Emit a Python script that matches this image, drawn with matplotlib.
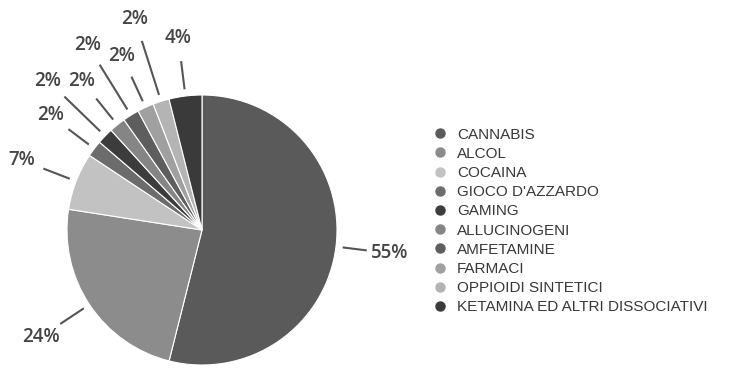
import matplotlib.pyplot as plt
import numpy as np
from matplotlib.lines import Line2D

categories = ['CANNABIS', 'ALCOL', 'COCAINA', "GIOCO D'AZZARDO", 'GAMING',
              'ALLUCINOGENI', 'AMFETAMINE', 'FARMACI', 'OPPIOIDI SINTETICI',
              'KETAMINA ED ALTRI DISSOCIATIVI']
shares = [55, 24, 7, 2, 2, 2, 2, 2, 2, 4]
colors = ['#5a5a5a', '#8c8c8c', '#c2c2c2', '#6c6c6c', '#3c3c3c',
          '#858585', '#5e5e5e', '#a0a0a0', '#b4b4b4', '#3a3a3a']
# label distance (in radii) for each slice, staggered for the small ones
label_r = [1.40, 1.43, 1.43, 1.41, 1.59, 1.42, 1.61, 1.42, 1.64, 1.43]

W, H = 729, 371
fig = plt.figure(figsize=(W / 100, H / 100), dpi=100)
ax = fig.add_axes([0, 0, 1, 1])

cx, cy, R = 202, 141, 135
wedges, _ = ax.pie(shares, colors=colors, startangle=90, counterclock=False,
                   center=(cx, cy), radius=R, frame=True,
                   wedgeprops=dict(edgecolor='white', linewidth=0.8))
ax.set_xlim(0, W)
ax.set_ylim(0, H)
ax.set_aspect('equal')
ax.axis('off')

for w, s, lr in zip(wedges, shares, label_r):
    ang = np.deg2rad((w.theta1 + w.theta2) / 2)
    ca, sa = np.cos(ang), np.sin(ang)
    r0, r1 = 1.05, lr - 0.17
    ax.plot([cx + R * r0 * ca, cx + R * r1 * ca], [cy + R * r0 * sa, cy + R * r1 * sa],
            color='#555555', lw=1.5, solid_capstyle='butt')
    ax.text(cx + R * lr * ca, cy + R * lr * sa, f'{s}%', ha='center', va='center',
            fontsize=13.5, family='Open Sans', weight='semibold', color='#454545')

handles = [Line2D([], [], marker='o', ls='', markersize=6.5, markerfacecolor=c,
                  markeredgecolor=c) for c in colors]
ax.legend(handles, categories, loc='center left', bbox_to_anchor=(425, 150),
          bbox_transform=ax.transData, frameon=False, handlelength=1.0,
          handletextpad=0.6, labelspacing=0.34, borderpad=0,
          prop=dict(family='Liberation Sans', size=11))
for t in ax.get_legend().get_texts():
    t.set_color('#383838')

fig.savefig('out.png', dpi=100)
